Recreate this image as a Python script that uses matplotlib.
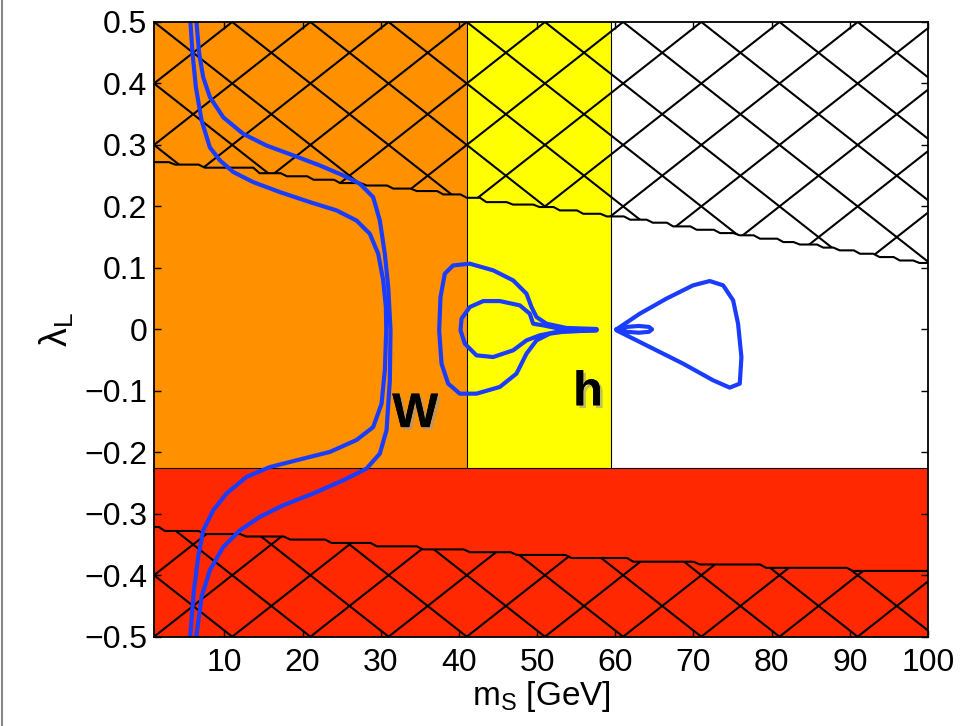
#!/usr/bin/env python3
"""Allowed regions in the (m_S, lambda_L) plane with relic-density contours."""

import matplotlib

matplotlib.use("Agg")
import matplotlib.pyplot as plt
import matplotlib.patheffects as pe
import numpy as np
from matplotlib.collections import LineCollection
from matplotlib.lines import Line2D
from matplotlib.ticker import FuncFormatter

# ---- data ---------------------------------------------------------------
X_MIN, X_MAX = 1.0, 100.0
Y_MIN, Y_MAX = -0.5, 0.5
M_W_EDGE = 41.0       # orange | yellow boundary
M_H_EDGE = 59.5       # yellow | white boundary
LAM_RED = -0.225      # top of red band

# upper excluded (hatched) boundary, step starts
upper_x = [1.0, 3.7, 7.5, 14.5, 18.0, 21.4, 24.8, 28.2, 31.6, 34.6, 38.0, 41.0,
           43.5, 46.9, 50.3, 52.9, 55.9, 58.9, 61.9, 64.8, 67.4, 70.4, 73.4,
           75.9, 78.5, 81.5, 83.6, 86.6, 88.7, 91.3, 93.8, 96.4, 98.9, 100.0]
upper_y = [0.272, 0.268, 0.263, 0.254, 0.249, 0.2434, 0.238, 0.234, 0.229,
           0.225, 0.2195, 0.214, 0.207, 0.203, 0.199, 0.1935, 0.188, 0.1837,
           0.1784, 0.1735, 0.1675, 0.162, 0.1566, 0.153, 0.1475, 0.142, 0.138,
           0.133, 0.1285, 0.123, 0.1176, 0.112, 0.108, 0.108]

# lower excluded (hatched) boundary, step starts
lower_x = [1.0, 2.4, 7.5, 12.8, 18.4, 23.7, 29.5, 35.4, 41.4, 47.4, 54.4, 62.3,
           70.8, 79.3, 90.4, 100.0]
lower_y = [-0.3215, -0.328, -0.333, -0.337, -0.342, -0.3475, -0.353, -0.358,
           -0.3625, -0.367, -0.372, -0.378, -0.3825, -0.388, -0.393, -0.393]

# W-resonance contours (top to bottom)
w_in_x = [5.65, 5.93, 6.35, 7.08, 8.14, 9.42, 11.13, 13.69, 17.1, 20.93, 24.34,
          26.9, 28.6, 29.67, 30.31, 30.65, 30.7, 30.52, 30.1, 29.03, 26.9,
          23.49, 19.23, 15.82, 12.83, 10.28, 8.57, 7.29, 6.65, 6.1, 5.62]
w_in_y = [0.5, 0.448, 0.394, 0.340, 0.296, 0.275, 0.256, 0.2395, 0.2233, 0.207,
          0.1935, 0.177, 0.1555, 0.123, 0.0797, 0.0363, -0.0016, -0.0666,
          -0.121, -0.159, -0.180, -0.1994, -0.213, -0.224, -0.240, -0.267,
          -0.2943, -0.327, -0.370, -0.4244, -0.5]
w_out_x = [6.42, 6.78, 7.29, 8.14, 9.85, 12.41, 15.39, 18.8, 22.21, 25.2, 27.33,
           29.03, 29.88, 30.52, 30.95, 31.16, 31.25, 31.16, 30.74, 29.88, 28.18,
           25.2, 21.36, 17.52, 14.54, 11.98, 9.85, 8.14, 7.08, 6.4]
w_out_y = [0.5, 0.448, 0.410, 0.378, 0.345, 0.318, 0.299, 0.283, 0.2666,
           0.2504, 0.2368, 0.215, 0.177, 0.123, 0.069, 0.02, -0.0016, -0.083,
           -0.164, -0.2021, -0.2265, -0.2455, -0.267, -0.2862, -0.305, -0.327,
           -0.354, -0.392, -0.4352, -0.5]

# h-resonance contours
h_out_x = [57.59, 53.75, 51.2, 49.92, 49.28, 48.64, 46.93, 44.38, 41.39, 39.26,
           38.19, 37.64, 37.47, 37.77, 38.62, 40.11, 42.24, 45.23, 47.36, 48.64,
           49.92, 51.62, 53.75, 57.59]
h_out_y = [0.0006, 0.0022, 0.0092, 0.020, 0.0363, 0.058, 0.0797, 0.096, 0.1068,
           0.104, 0.0905, 0.0526, -0.0016, -0.0558, -0.0883, -0.1046, -0.1046,
           -0.0937, -0.072, -0.0395, -0.0179, -0.0070, -0.0032, -0.0016]
h_in_x = [57.59, 52.9, 50.77, 49.49, 49.06, 47.79, 45.23, 43.1, 41.39, 40.33,
          40.2, 40.75, 42.24, 44.38, 46.93, 48.64, 50.34, 52.47, 57.59]
h_in_y = [0.0, 0.001, 0.0065, 0.0092, 0.0255, 0.039, 0.046, 0.046, 0.0363,
          0.0174, -0.0016, -0.0233, -0.0423, -0.045, -0.0341, -0.0179, -0.0097,
          -0.0043, -0.0016]
r_out_x = [60.15, 63.13, 66.54, 69.95, 72.08, 73.79, 75.07, 75.7, 76.13, 75.92,
           74.64, 72.51, 68.67, 64.41, 61.43, 60.15]
r_out_y = [0.0, 0.0255, 0.050, 0.0716, 0.0786, 0.0716, 0.0472, 0.0092, -0.045,
           -0.0883, -0.0948, -0.0829, -0.0558, -0.0287, -0.0097, -0.0016]
r_in_x = [60.15, 61.5, 63.0, 64.3, 64.7, 64.3, 63.0, 61.5, 60.15]
r_in_y = [0.0, 0.004, 0.0055, 0.004, 0.0, -0.004, -0.0055, -0.004, 0.0]

labels = [("W", 34.4, -0.159), ("h", 56.5, -0.1236)]

ORANGE = "#FF9100"
YELLOW = "#FFFF00"
RED = "#FF2800"
BLUE = "#1A3CFF"

plt.rcParams.update({
    "font.family": ["Liberation Sans", "DejaVu Sans"],
    "font.size": 23,
    "mathtext.default": "regular",
})


def step_vertices(xs, ys, drop=0.8):
    # flat runs joined by short slanted drops, like the original contour
    vx, vy = [xs[0]], [ys[0]]
    for i in range(1, len(xs)):
        vx += [max(xs[i] - drop, vx[-1]), xs[i]]
        vy += [ys[i - 1], ys[i]]
    return np.array(vx), np.array(vy)


def hatch(ax, clip_path):
    # diamond cross-hatch: 10 GeV wide, 0.1 tall cells anchored at (1, 0)
    segs = []
    for n in range(-20, 21):
        for s in (1, -1):
            segs.append([(X_MIN, 0.1 * n),
                         (X_MAX, s * 0.01 * (X_MAX - X_MIN) + 0.1 * n)])
    lc = LineCollection(segs, colors="black", linewidths=1.5, zorder=3)
    ax.add_collection(lc)
    lc.set_clip_path(clip_path, ax.transData)


def main():
    fig = plt.figure(figsize=(9.61, 7.26), dpi=100)
    ax = fig.add_axes([0.1603, 0.123, 0.8054, 0.8467])

    # colored bands
    ax.fill_between([X_MIN, M_W_EDGE], LAM_RED, Y_MAX, color=ORANGE, lw=0, zorder=1)
    ax.fill_between([M_W_EDGE, M_H_EDGE], LAM_RED, Y_MAX, color=YELLOW, lw=0, zorder=1)
    ax.fill_between([X_MIN, X_MAX], Y_MIN, LAM_RED, color=RED, lw=0, zorder=1)
    ax.plot([M_W_EDGE, M_W_EDGE], [LAM_RED, Y_MAX], color="black", lw=0.8, zorder=2)
    ax.plot([M_H_EDGE, M_H_EDGE], [LAM_RED, Y_MAX], color="black", lw=0.8, zorder=2)
    ax.plot([X_MIN, X_MAX], [LAM_RED, LAM_RED], color="black", lw=0.8, zorder=2)

    # hatched excluded regions
    ux, uy = step_vertices(upper_x, upper_y)
    up = ax.fill_between(ux, uy, Y_MAX, facecolor="none", lw=0)
    hatch(ax, up.get_paths()[0])
    ax.plot(ux, uy, color="black", lw=1.5, zorder=4)

    lx, ly = step_vertices(lower_x, lower_y)
    lo = ax.fill_between(lx, Y_MIN, ly, facecolor="none", lw=0)
    hatch(ax, lo.get_paths()[0])
    ax.plot(lx, ly, color="black", lw=1.5, zorder=4)

    # relic density contours
    for cx, cy in [(w_in_x, w_in_y), (w_out_x, w_out_y), (h_out_x, h_out_y),
                   (h_in_x, h_in_y), (r_out_x, r_out_y), (r_in_x, r_in_y)]:
        ax.plot(cx, cy, color=BLUE, lw=3.0, zorder=5, solid_joinstyle="round",
                solid_capstyle="round")

    for txt, tx, ty in labels:
        ax.text(tx, ty, txt, fontsize=35, fontweight="bold", ha="center",
                va="baseline", zorder=6,
                path_effects=[pe.withSimplePatchShadow(offset=(2, -2),
                                                       shadow_rgbFace="#999999",
                                                       alpha=0.6),
                              pe.Normal()])

    ax.set_xlim(X_MIN, X_MAX)
    ax.set_ylim(Y_MIN, Y_MAX)
    ax.set_xticks(np.arange(10, 101, 10))
    ax.set_yticks(np.round(np.arange(-0.5, 0.51, 0.1), 1))
    ax.yaxis.set_major_formatter(FuncFormatter(
        lambda v, _: "0" if abs(v) < 1e-9 else f"{v:.1f}".replace("-", "\u2212")))
    ax.tick_params(direction="in", top=True, right=True, length=5, width=1,
                   labelsize=23)
    ax.tick_params(axis="x", pad=8)
    ax.tick_params(axis="y", pad=5)
    for sp in ax.spines.values():
        sp.set_linewidth(1.3)
        sp.set_zorder(7)
    ax.set_xlabel("m$_S$ [GeV]", fontsize=24, labelpad=1)
    ax.set_ylabel("λ$_L$", fontsize=27, labelpad=6)

    fig.add_artist(Line2D([0.002, 0.002], [0, 1], color="#888888", lw=1.5,
                          transform=fig.transFigure))
    fig.savefig("out.png", dpi=100)
    plt.close(fig)


if __name__ == "__main__":
    main()
